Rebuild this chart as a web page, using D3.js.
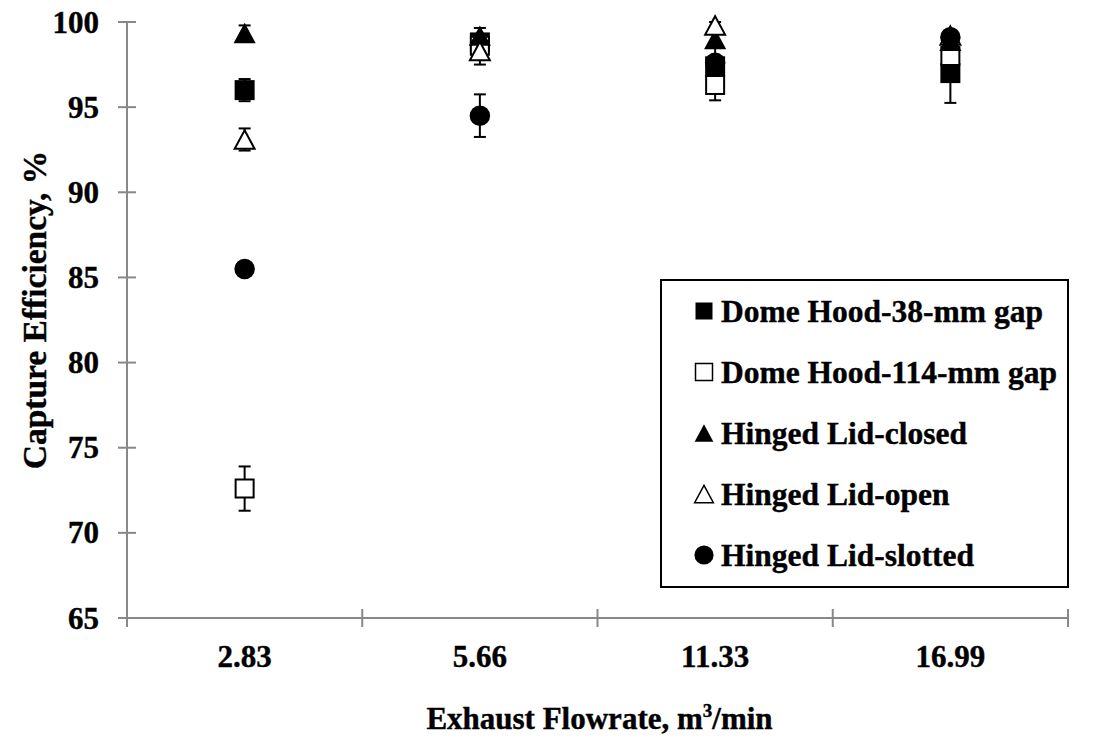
<!DOCTYPE html>
<html>
<head>
<meta charset="utf-8">
<script src="https://cdn.jsdelivr.net/npm/d3@7"></script>
<style>
  body { margin: 0; background: #fff; }
  text { font-family: "Liberation Serif", "Times New Roman", serif; font-weight: bold; fill: #000; stroke: #000; stroke-width: 0.4px; }
</style>
</head>
<body>
<div id="chart"></div>
<script>
// categories on the x axis (exhaust flowrate, m3/min)
const flowrates = ["2.83", "5.66", "11.33", "16.99"];
const yTicks = [65, 70, 75, 80, 85, 90, 95, 100];

// capture efficiency (%) and error bar half-widths per series
const dome38 = [96.0, 98.8, 97.4, 97.0];
const dome38Err = [0.65, 0.3, 1.1, 1.75];
const dome114 = [72.6, 98.6, 96.3, 98.0];
const dome114Err = [1.3, 0.4, 0.9, 0.5];
const lidClosed = [99.35, 99.2, 99.0, 98.9];
const lidClosedErr = [0.45, 0.45, 0.4, 0.3];
const lidOpen = [93.1, 98.3, 99.8, 99.2];
const lidOpenErr = [0.65, 0.8, 0.2, 0.3];
const lidSlotted = [85.5, 94.5, 97.6, 99.1];
const lidSlottedErr = [0.3, 1.25, 0.4, 0.3];

const seriesNames = [
  "Dome Hood-38-mm gap",
  "Dome Hood-114-mm gap",
  "Hinged Lid-closed",
  "Hinged Lid-open",
  "Hinged Lid-slotted",
];

// triangle centred on its bounding box, the way the spreadsheet draws it
var symbolTri = {
  draw: function(context, size) {
    var h = Math.sqrt(size), w = h * 1.08;
    context.moveTo(0, -h / 2);
    context.lineTo(w / 2, h / 2);
    context.lineTo(-w / 2, h / 2);
    context.closePath();
  }
};

var series = [
  { name: seriesNames[0], values: dome38, err: dome38Err, shape: d3.symbolSquare, filled: true },
  { name: seriesNames[1], values: dome114, err: dome114Err, shape: d3.symbolSquare, filled: false },
  { name: seriesNames[2], values: lidClosed, err: lidClosedErr, shape: symbolTri, filled: true },
  { name: seriesNames[3], values: lidOpen, err: lidOpenErr, shape: symbolTri, filled: false },
  { name: seriesNames[4], values: lidSlotted, err: lidSlottedErr, shape: d3.symbolCircle, filled: true },
];

var width = 1095, height = 739;
var plot = { left: 127, right: 1068, top: 22, bottom: 618 };

var svg = d3.select("#chart").append("svg")
  .attr("width", width)
  .attr("height", height);

var xScale = d3.scaleBand().domain(flowrates).range([plot.left, plot.right]).padding(0);
var yScale = d3.scaleLinear().domain([65, 100]).range([plot.bottom, plot.top]);

var axisColor = "#888";

// y axis with ticks crossing the line
var yAxis = svg.append("g");
yAxis.append("line")
  .attr("x1", plot.left).attr("x2", plot.left)
  .attr("y1", yScale(100)).attr("y2", yScale(65))
  .attr("stroke", axisColor).attr("stroke-width", 2);
yAxis.selectAll(".tick").data(yTicks).enter().append("line")
  .attr("x1", plot.left - 9).attr("x2", plot.left + 9)
  .attr("y1", d => yScale(d)).attr("y2", d => yScale(d))
  .attr("stroke", axisColor).attr("stroke-width", 2);
yAxis.selectAll(".label").data(yTicks).enter().append("text")
  .attr("x", 99)
  .attr("y", d => yScale(d) + 10.5)
  .attr("text-anchor", "end")
  .style("font-size", "31px")
  .text(d => d);

// x axis, ticks at category boundaries
var xAxis = svg.append("g");
xAxis.append("line")
  .attr("x1", plot.left).attr("x2", plot.right)
  .attr("y1", plot.bottom).attr("y2", plot.bottom)
  .attr("stroke", axisColor).attr("stroke-width", 2);
var bounds = flowrates.map(d => xScale(d)).concat([xScale.range()[1]]);
xAxis.selectAll(".tick").data(bounds).enter().append("line")
  .attr("x1", d => d).attr("x2", d => d)
  .attr("y1", plot.bottom - 9).attr("y2", plot.bottom + 9)
  .attr("stroke", axisColor).attr("stroke-width", 2);
xAxis.selectAll(".label").data(flowrates).enter().append("text")
  .attr("x", d => xScale(d) + xScale.bandwidth() / 2)
  .attr("y", 667)
  .attr("text-anchor", "middle")
  .style("font-size", "31px")
  .text(d => d);

// axis titles
var xTitle = svg.append("text")
  .attr("x", (plot.left + plot.right) / 2 + 2)
  .attr("y", 729)
  .attr("text-anchor", "middle")
  .style("font-size", "31px");
xTitle.append("tspan").text("Exhaust Flowrate, m");
xTitle.append("tspan").attr("dy", -12).style("font-size", "19px").text("3");
xTitle.append("tspan").attr("dy", 12).text("/min");

svg.append("text")
  .attr("transform", "translate(46,310) rotate(-90)")
  .attr("text-anchor", "middle")
  .style("font-size", "33.5px")
  .text("Capture Efficiency, %");

// flatten to points
var points = [];
series.forEach((s, i) => {
  s.values.forEach((v, j) => {
    points.push({ series: s, idx: i, cat: flowrates[j], value: v, err: s.err[j] });
  });
});

var cx = d => xScale(d.cat) + xScale.bandwidth() / 2;

// error bars
var errG = svg.append("g").attr("stroke", "#000").attr("stroke-width", 2);
points.forEach(p => {
  var x = cx(p), y1 = yScale(p.value + p.err), y2 = yScale(p.value - p.err);
  errG.append("line").attr("x1", x).attr("x2", x).attr("y1", y1).attr("y2", y2);
  errG.append("line").attr("x1", x - 6).attr("x2", x + 6).attr("y1", y1).attr("y2", y1);
  errG.append("line").attr("x1", x - 6).attr("x2", x + 6).attr("y1", y2).attr("y2", y2);
});

function symbolSize(shape, filled) {
  if (shape === d3.symbolSquare) return filled ? 400 : 324;
  if (shape === symbolTri) return filled ? 420 : 340;
  return 330;
}

// markers
svg.append("g").selectAll("path").data(points).enter().append("path")
  .attr("transform", d => "translate(" + cx(d) + "," + yScale(d.value) + ")")
  .attr("d", d => d3.symbol().type(d.series.shape).size(symbolSize(d.series.shape, d.series.filled))())
  .attr("fill", d => d.series.filled ? "#000" : "#fff")
  .attr("stroke", "#000")
  .attr("stroke-width", d => d.series.filled ? 0 : 2);

// legend
var legend = svg.append("g");
legend.append("rect")
  .attr("x", 661).attr("y", 280)
  .attr("width", 407).attr("height", 307)
  .attr("fill", "#fff").attr("stroke", "#000").attr("stroke-width", 2);
var rows = legend.selectAll(".row").data(series).enter().append("g")
  .attr("transform", (d, i) => "translate(704," + (311 + i * 61) + ")");
rows.append("path")
  .attr("d", d => d3.symbol().type(d.shape).size(d.shape === d3.symbolSquare ? 289 : (d.shape === symbolTri ? 300 : 290))())
  .attr("fill", d => d.filled ? "#000" : "#fff")
  .attr("stroke", "#000")
  .attr("stroke-width", d => d.filled ? 0 : 1.5);
rows.append("text")
  .attr("x", 17)
  .attr("y", 11)
  .style("font-size", "31.5px")
  .text(d => d.name);
</script>
</body>
</html>
